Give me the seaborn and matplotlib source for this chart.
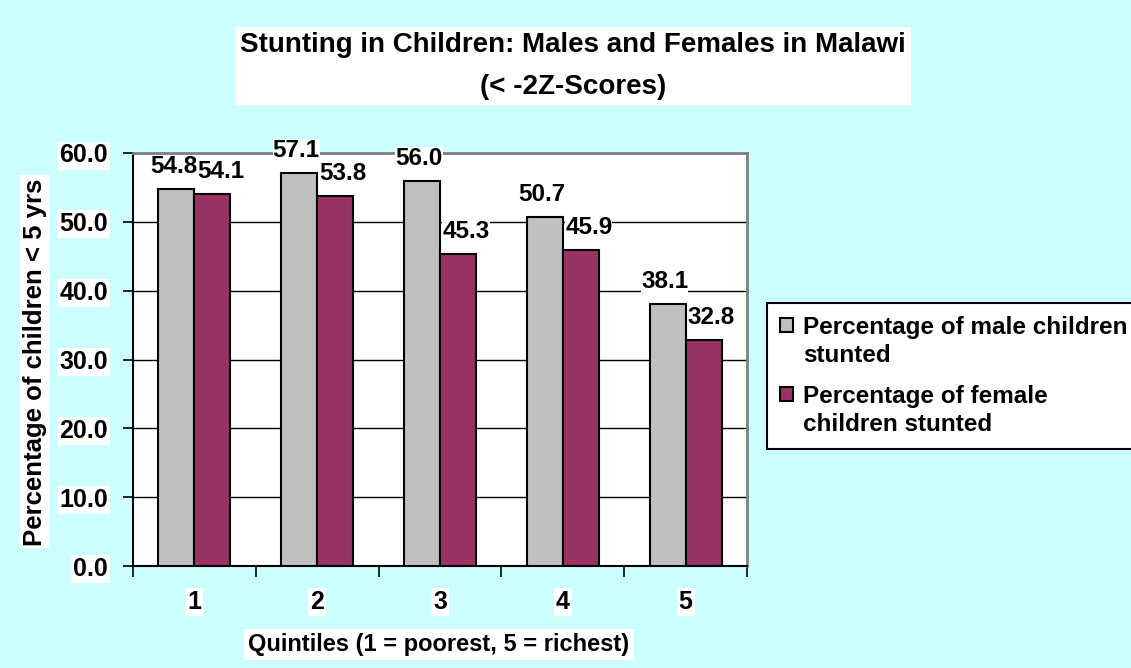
import matplotlib
matplotlib.use("Agg")
import matplotlib.pyplot as plt
import seaborn as sns
import pandas as pd
import numpy as np
from matplotlib.ticker import FixedLocator
from matplotlib.legend_handler import HandlerPatch
from matplotlib.patches import Rectangle

quintiles = ["1", "2", "3", "4", "5"]
male = [54.8, 57.1, 56.0, 50.7, 38.1]
female = [54.1, 53.8, 45.3, 45.9, 32.8]
series_names = ["Percentage of male children\nstunted", "Percentage of female\nchildren stunted"]
colors = ["#C0C0C0", "#993366"]
yticks = [0, 10, 20, 30, 40, 50, 60]

df = pd.DataFrame({
    "Quintile": quintiles * 2,
    "Value": male + female,
    "Series": [series_names[0]] * 5 + [series_names[1]] * 5,
})

sns.set_style("white")
plt.rcParams["font.family"] = ["Liberation Sans", "DejaVu Sans"]
plt.rcParams["font.weight"] = "bold"
for k in ["text.color", "axes.labelcolor", "xtick.color", "ytick.color", "xtick.labelcolor", "ytick.labelcolor"]:
    plt.rcParams[k] = "black"

BG = "#CCFFFF"
fig = plt.figure(figsize=(11.31, 6.68), dpi=100, facecolor=BG)
W, H = 1131, 668
ax = fig.add_axes([133 / W, 1 - 566 / H, (747 - 133) / W, (566 - 153) / H])
ax.set_facecolor("white")

sns.barplot(data=df, x="Quintile", y="Value", hue="Series", palette=colors,
            width=0.586, edgecolor="black", linewidth=1.5, ax=ax, zorder=3,
            saturation=1, legend=True)

ax.set_ylim(0, 60)
ax.set_xlim(-0.5, 4.5)
ax.set_yticks(yticks)
ax.set_yticklabels([f"{v:.1f}" for v in yticks])
ax.yaxis.grid(True, color="black", linewidth=1, zorder=0)
ax.set_axisbelow(True)

for s in ["left", "bottom"]:
    ax.spines[s].set_color("black")
    ax.spines[s].set_linewidth(1.5)
for s in ["top", "right"]:
    ax.spines[s].set_color("#808080")
    ax.spines[s].set_linewidth(2)

ax.tick_params(axis="y", direction="out", length=7, width=1.2, color="black",
               labelsize=18, pad=11, left=True, labelcolor="black")
ax.tick_params(axis="x", which="major", length=0, pad=17, labelcolor="black")
ax.xaxis.set_minor_locator(FixedLocator(np.arange(-0.5, 5, 1.0)))
ax.tick_params(axis="x", which="minor", direction="out", length=8, width=1.2,
               color="black", bottom=True)
for lbl in ax.get_yticklabels():
    lbl.set_fontweight("bold")
    lbl.set_bbox(dict(facecolor="white", edgecolor="none", pad=1.5))
for lbl in ax.get_xticklabels():
    lbl.set_fontweight("bold")
    lbl.set_fontsize(18)
    lbl.set_bbox(dict(facecolor="white", edgecolor="none", pad=1.5))

ax.set_xlabel("Quintiles (1 = poorest, 5 = richest)", fontsize=17,
              fontweight="bold", va="center", color="black",
              bbox=dict(facecolor="white", edgecolor="none", pad=3))
ax.xaxis.set_label_coords(0.498, -0.19)
ax.set_ylabel("Percentage of children < 5 yrs", fontsize=18.5, fontweight="bold",
              va="center", color="black",
              bbox=dict(facecolor="white", edgecolor="none", pad=2))
ax.yaxis.set_label_coords(-0.16, 0.494)

# data labels
offsets = [-3, 8]
for ci, cont in enumerate(ax.containers):
    for bar in cont:
        h = bar.get_height()
        ax.annotate(f"{h:.1f}", (bar.get_x() + bar.get_width() / 2, h),
                    xytext=(offsets[ci], 16), textcoords="offset pixels",
                    ha="center", va="baseline", fontsize=17.5, fontweight="bold",
                    color="black", zorder=5 + ci, annotation_clip=False,
                    bbox=dict(facecolor="white", edgecolor="none", pad=0))

# title
fig.text(573 / W, 1 - 66 / H,
         "Stunting in Children: Males and Females in Malawi\n(< -2Z-Scores)",
         ha="center", va="center", fontsize=20, fontweight="bold",
         linespacing=1.75, color="black",
         bbox=dict(facecolor="white", edgecolor="none", pad=4))


class TopSquareHandler(HandlerPatch):
    def create_artists(self, legend, orig_handle, xdescent, ydescent, width,
                       height, fontsize, trans):
        p = Rectangle(xy=(-xdescent, -ydescent + 12), width=width, height=height)
        self.update_prop(p, orig_handle, legend)
        p.set_linewidth(1.5)
        p.set_edgecolor("black")
        p.set_transform(trans)
        return [p]


# legend
handles, labels = ax.get_legend_handles_labels()
ax.get_legend().remove()
leg = fig.legend(handles, labels, loc="upper left",
                 bbox_to_anchor=(767 / W, 1 - 303 / H), bbox_transform=fig.transFigure,
                 fontsize=17.5, frameon=True, fancybox=False, framealpha=1,
                 edgecolor="black", handlelength=0.5, handleheight=0.5,
                 handletextpad=0.45, labelspacing=0.75, borderpad=0.55,
                 borderaxespad=0,
                 handler_map={h: TopSquareHandler() for h in handles})
leg.get_frame().set_linewidth(1.5)
for t in leg.get_texts():
    t.set_fontweight("bold")
    t.set_color("black")
    t.set_linespacing(1.25)

fig.savefig("out.png", dpi=100, facecolor=BG)
